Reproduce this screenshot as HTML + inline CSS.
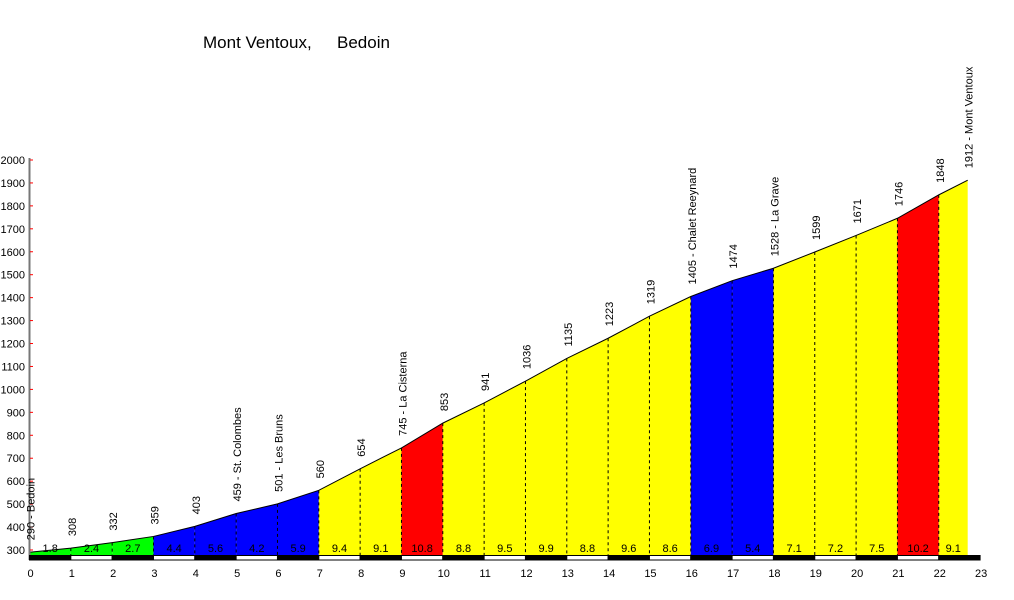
<!DOCTYPE html>
<html><head><meta charset="utf-8"><style>
body{margin:0;background:#fff;}
svg{display:block;font-family:"Liberation Sans",Arial,sans-serif;}
</style></head><body>
<svg id="chart" width="1014" height="600" viewBox="0 0 1014 600" xmlns="http://www.w3.org/2000/svg">
<text x="203" y="48" font-size="17">Mont Ventoux,</text>
<text x="337" y="48" font-size="17">Bedoin</text>
<g id="fills"></g><g id="grid"></g><g id="axes"></g><g id="labels"></g>
</svg>
<script>
const kms = [0,1,2,3,4,5,6,7,8,9,10,11,12,13,14,15,16,17,18,19,20,21,22,22.7];
const elevations = [290,308,332,359,403,459,501,560,654,745,853,941,1036,1135,1223,1319,1405,1474,1528,1599,1671,1746,1848,1912];
const places = {0:"Bedoin",5:"St. Colombes",6:"Les Bruns",9:"La Cisterna",16:"Chalet Reeynard",18:"La Grave",23:"Mont Ventoux"};
const grades = [1.8,2.4,2.7,4.4,5.6,4.2,5.9,9.4,9.1,10.8,8.8,9.5,9.9,8.8,9.6,8.6,6.9,5.4,7.1,7.2,7.5,10.2,9.1];
const yTicks = [300,400,500,600,700,800,900,1000,1100,1200,1300,1400,1500,1600,1700,1800,1900,2000];
const xTicks = [0,1,2,3,4,5,6,7,8,9,10,11,12,13,14,15,16,17,18,19,20,21,22,23];
const NS="http://www.w3.org/2000/svg";
const X=k=>29.5+k*41.33;
const Y=v=>160+(2000-v)*0.2294;
const BASE=555;
function mk(tag,attrs,parent,txt){const e=document.createElementNS(NS,tag);for(const a in attrs)e.setAttribute(a,attrs[a]);if(txt!==undefined)e.textContent=txt;document.getElementById(parent).appendChild(e);return e;}
function col(g){return g<3?"#00ff00":g<7?"#0000ff":g<10?"#ffff00":"#ff0000";}
for(let i=0;i<grades.length;i++){
  const x1=X(kms[i]),x2=X(kms[i+1]);
  const p=mk("polygon",{points:`${x1},${BASE} ${x1},${Y(elevations[i])} ${x2},${Y(elevations[i+1])} ${x2},${BASE}`,fill:col(grades[i])},"fills");
  
  
  const t=mk("text",{x:(x1+x2)/2,y:552,"font-size":11,"text-anchor":"middle"},"labels",grades[i].toFixed(1));
  
  
  if(i>0){const l=mk("line",{x1:x1,x2:x1,y1:Y(elevations[i]),y2:BASE,stroke:"#000","stroke-width":1,"stroke-dasharray":"3,3"},"grid");
  
  }
}
const pl=mk("polyline",{points:kms.map((k,i)=>X(k)+","+Y(elevations[i])).join(" "),fill:"none",stroke:"#000","stroke-width":1},"grid");


kms.forEach((k,i)=>{
  const x=X(k)+5,y=Y(elevations[i])-12;
  const s=places[i]?elevations[i]+" - "+places[i]:String(elevations[i]);
  const t=mk("text",{x:x,y:y,"font-size":11,transform:`rotate(-90 ${x} ${y})`},"labels",s);
  
  
});
const ax=mk("line",{x1:29.5,x2:29.5,y1:158,y2:560,stroke:"#777","stroke-width":2},"axes");


yTicks.forEach(v=>{
  const tk=mk("line",{x1:30,x2:33,y1:Y(v),y2:Y(v),stroke:"#f00","stroke-width":1},"axes");
  
  
  const t=mk("text",{x:25,y:Y(v)+4,"font-size":11,"text-anchor":"end"},"axes",v);
  
  
});
xTicks.forEach((k,i)=>{
  if(i<xTicks.length-1){
    const r=mk("rect",{x:X(k),y:BASE+0.5,width:41.33,height:4.5,fill:i%2?"#fff":"#000",stroke:"#000","stroke-width":1},"axes");
    
    
  }
  const t=mk("text",{x:X(k)+1,y:577,"font-size":11,"text-anchor":"middle"},"axes",k);
  
  
});
</script>
</body></html>
